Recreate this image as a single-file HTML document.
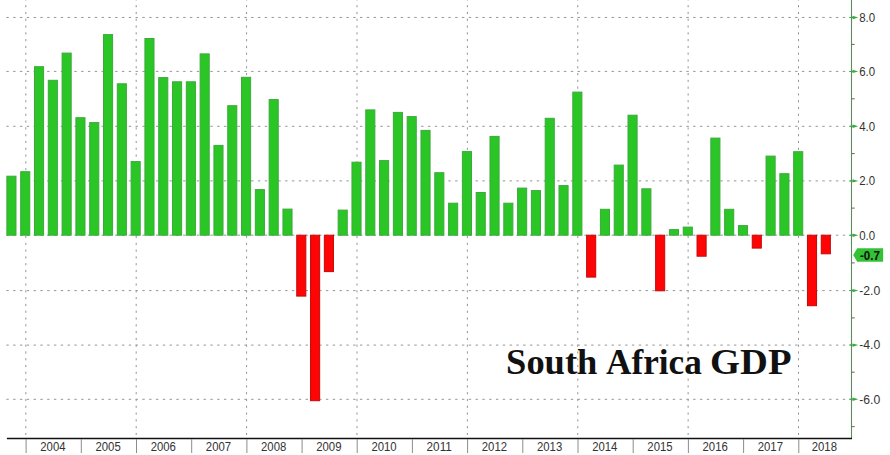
<!DOCTYPE html>
<html><head><meta charset="utf-8"><style>
html,body{margin:0;padding:0;background:#fff;}
svg{display:block;}
.g{stroke:#959595;stroke-width:1;stroke-dasharray:2.4 4.4;stroke-dashoffset:-0.35;fill:none;}
.gv{stroke:#959595;stroke-width:1;stroke-dasharray:2.2 4.59;stroke-dashoffset:1.7;fill:none;}
.yl{font-family:"Liberation Sans",sans-serif;font-size:12px;fill:#333;}
.xl{font-family:"Liberation Sans",sans-serif;font-size:12.5px;fill:#333;}
.tg{font-family:"Liberation Sans",sans-serif;font-size:12.2px;font-weight:bold;fill:#111;}
.tt{font-family:"Liberation Serif",serif;font-size:36px;font-weight:bold;fill:#111;}
</style></head><body>
<svg width="890" height="455" viewBox="0 0 890 455">
<line x1="6" y1="17.45" x2="851" y2="17.45" class="g"/>
<line x1="6" y1="71.40" x2="851" y2="71.40" class="g"/>
<line x1="6" y1="126.30" x2="851" y2="126.30" class="g"/>
<line x1="6" y1="180.90" x2="851" y2="180.90" class="g"/>
<line x1="6" y1="235.20" x2="851" y2="235.20" class="g"/>
<line x1="6" y1="290.60" x2="851" y2="290.60" class="g"/>
<line x1="6" y1="345.10" x2="851" y2="345.10" class="g"/>
<line x1="6" y1="399.30" x2="851" y2="399.30" class="g"/>
<line x1="25.80" y1="0" x2="25.80" y2="438" class="gv"/>
<line x1="136.19" y1="0" x2="136.19" y2="438" class="gv"/>
<line x1="246.58" y1="0" x2="246.58" y2="438" class="gv"/>
<line x1="356.97" y1="0" x2="356.97" y2="438" class="gv"/>
<line x1="467.36" y1="0" x2="467.36" y2="438" class="gv"/>
<line x1="577.75" y1="0" x2="577.75" y2="438" class="gv"/>
<line x1="688.14" y1="0" x2="688.14" y2="438" class="gv"/>
<line x1="798.53" y1="0" x2="798.53" y2="438" class="gv"/>
<rect x="6.88" y="176.2" width="9.1" height="59.0" fill="#2ac626" stroke="#3ea83e" stroke-width="1"/>
<rect x="20.68" y="171.7" width="9.1" height="63.5" fill="#2ac626" stroke="#3ea83e" stroke-width="1"/>
<rect x="34.49" y="66.7" width="9.1" height="168.5" fill="#2ac626" stroke="#3ea83e" stroke-width="1"/>
<rect x="48.29" y="80.3" width="9.1" height="154.9" fill="#2ac626" stroke="#3ea83e" stroke-width="1"/>
<rect x="62.09" y="53.1" width="9.1" height="182.1" fill="#2ac626" stroke="#3ea83e" stroke-width="1"/>
<rect x="75.89" y="117.7" width="9.1" height="117.5" fill="#2ac626" stroke="#3ea83e" stroke-width="1"/>
<rect x="89.70" y="122.6" width="9.1" height="112.6" fill="#2ac626" stroke="#3ea83e" stroke-width="1"/>
<rect x="103.50" y="34.6" width="9.1" height="200.6" fill="#2ac626" stroke="#3ea83e" stroke-width="1"/>
<rect x="117.30" y="83.8" width="9.1" height="151.4" fill="#2ac626" stroke="#3ea83e" stroke-width="1"/>
<rect x="131.11" y="161.6" width="9.1" height="73.6" fill="#2ac626" stroke="#3ea83e" stroke-width="1"/>
<rect x="144.91" y="38.5" width="9.1" height="196.7" fill="#2ac626" stroke="#3ea83e" stroke-width="1"/>
<rect x="158.71" y="77.6" width="9.1" height="157.6" fill="#2ac626" stroke="#3ea83e" stroke-width="1"/>
<rect x="172.52" y="81.8" width="9.1" height="153.4" fill="#2ac626" stroke="#3ea83e" stroke-width="1"/>
<rect x="186.32" y="81.8" width="9.1" height="153.4" fill="#2ac626" stroke="#3ea83e" stroke-width="1"/>
<rect x="200.12" y="53.9" width="9.1" height="181.3" fill="#2ac626" stroke="#3ea83e" stroke-width="1"/>
<rect x="213.93" y="145.4" width="9.1" height="89.8" fill="#2ac626" stroke="#3ea83e" stroke-width="1"/>
<rect x="227.73" y="105.7" width="9.1" height="129.5" fill="#2ac626" stroke="#3ea83e" stroke-width="1"/>
<rect x="241.53" y="77.3" width="9.1" height="157.9" fill="#2ac626" stroke="#3ea83e" stroke-width="1"/>
<rect x="255.33" y="189.6" width="9.1" height="45.6" fill="#2ac626" stroke="#3ea83e" stroke-width="1"/>
<rect x="269.14" y="99.6" width="9.1" height="135.6" fill="#2ac626" stroke="#3ea83e" stroke-width="1"/>
<rect x="282.94" y="209.1" width="9.1" height="26.1" fill="#2ac626" stroke="#3ea83e" stroke-width="1"/>
<rect x="296.74" y="235.2" width="9.1" height="60.9" fill="#ff0404" stroke="#c40a0a" stroke-width="1"/>
<rect x="310.55" y="235.2" width="9.1" height="165.5" fill="#ff0404" stroke="#c40a0a" stroke-width="1"/>
<rect x="324.35" y="235.2" width="9.1" height="36.4" fill="#ff0404" stroke="#c40a0a" stroke-width="1"/>
<rect x="338.15" y="210.1" width="9.1" height="25.1" fill="#2ac626" stroke="#3ea83e" stroke-width="1"/>
<rect x="351.96" y="162.2" width="9.1" height="73.0" fill="#2ac626" stroke="#3ea83e" stroke-width="1"/>
<rect x="365.76" y="109.9" width="9.1" height="125.3" fill="#2ac626" stroke="#3ea83e" stroke-width="1"/>
<rect x="379.56" y="160.6" width="9.1" height="74.6" fill="#2ac626" stroke="#3ea83e" stroke-width="1"/>
<rect x="393.36" y="112.4" width="9.1" height="122.8" fill="#2ac626" stroke="#3ea83e" stroke-width="1"/>
<rect x="407.17" y="116.6" width="9.1" height="118.6" fill="#2ac626" stroke="#3ea83e" stroke-width="1"/>
<rect x="420.97" y="130.4" width="9.1" height="104.8" fill="#2ac626" stroke="#3ea83e" stroke-width="1"/>
<rect x="434.77" y="172.7" width="9.1" height="62.5" fill="#2ac626" stroke="#3ea83e" stroke-width="1"/>
<rect x="448.58" y="203.2" width="9.1" height="32.0" fill="#2ac626" stroke="#3ea83e" stroke-width="1"/>
<rect x="462.38" y="151.6" width="9.1" height="83.6" fill="#2ac626" stroke="#3ea83e" stroke-width="1"/>
<rect x="476.18" y="192.5" width="9.1" height="42.7" fill="#2ac626" stroke="#3ea83e" stroke-width="1"/>
<rect x="489.99" y="136.4" width="9.1" height="98.8" fill="#2ac626" stroke="#3ea83e" stroke-width="1"/>
<rect x="503.79" y="203.2" width="9.1" height="32.0" fill="#2ac626" stroke="#3ea83e" stroke-width="1"/>
<rect x="517.59" y="188.1" width="9.1" height="47.1" fill="#2ac626" stroke="#3ea83e" stroke-width="1"/>
<rect x="531.39" y="190.6" width="9.1" height="44.6" fill="#2ac626" stroke="#3ea83e" stroke-width="1"/>
<rect x="545.20" y="118.3" width="9.1" height="116.9" fill="#2ac626" stroke="#3ea83e" stroke-width="1"/>
<rect x="559.00" y="185.6" width="9.1" height="49.6" fill="#2ac626" stroke="#3ea83e" stroke-width="1"/>
<rect x="572.80" y="92.1" width="9.1" height="143.1" fill="#2ac626" stroke="#3ea83e" stroke-width="1"/>
<rect x="586.61" y="235.2" width="9.1" height="41.9" fill="#ff0404" stroke="#c40a0a" stroke-width="1"/>
<rect x="600.41" y="209.3" width="9.1" height="25.9" fill="#2ac626" stroke="#3ea83e" stroke-width="1"/>
<rect x="614.21" y="165.1" width="9.1" height="70.1" fill="#2ac626" stroke="#3ea83e" stroke-width="1"/>
<rect x="628.01" y="115.2" width="9.1" height="120.0" fill="#2ac626" stroke="#3ea83e" stroke-width="1"/>
<rect x="641.82" y="188.8" width="9.1" height="46.4" fill="#2ac626" stroke="#3ea83e" stroke-width="1"/>
<rect x="655.62" y="235.2" width="9.1" height="55.6" fill="#ff0404" stroke="#c40a0a" stroke-width="1"/>
<rect x="669.42" y="229.6" width="9.1" height="5.6" fill="#2ac626" stroke="#3ea83e" stroke-width="1"/>
<rect x="683.23" y="227.1" width="9.1" height="8.1" fill="#2ac626" stroke="#3ea83e" stroke-width="1"/>
<rect x="697.03" y="235.2" width="9.1" height="21.0" fill="#ff0404" stroke="#c40a0a" stroke-width="1"/>
<rect x="710.83" y="138.1" width="9.1" height="97.1" fill="#2ac626" stroke="#3ea83e" stroke-width="1"/>
<rect x="724.64" y="209.3" width="9.1" height="25.9" fill="#2ac626" stroke="#3ea83e" stroke-width="1"/>
<rect x="738.44" y="225.6" width="9.1" height="9.6" fill="#2ac626" stroke="#3ea83e" stroke-width="1"/>
<rect x="752.24" y="235.2" width="9.1" height="12.9" fill="#ff0404" stroke="#c40a0a" stroke-width="1"/>
<rect x="766.05" y="156.1" width="9.1" height="79.1" fill="#2ac626" stroke="#3ea83e" stroke-width="1"/>
<rect x="779.85" y="173.7" width="9.1" height="61.5" fill="#2ac626" stroke="#3ea83e" stroke-width="1"/>
<rect x="793.65" y="151.7" width="9.1" height="83.5" fill="#2ac626" stroke="#3ea83e" stroke-width="1"/>
<rect x="807.45" y="235.2" width="9.1" height="70.5" fill="#ff0404" stroke="#c40a0a" stroke-width="1"/>
<rect x="821.26" y="235.2" width="9.1" height="18.6" fill="#ff0404" stroke="#c40a0a" stroke-width="1"/>
<line x1="851.5" y1="0" x2="851.5" y2="438.5" stroke="#5e8a60" stroke-width="1.1"/>
<line x1="851.5" y1="426.6" x2="854.7" y2="426.6" stroke="#666" stroke-width="1"/>
<path d="M849.3 398.80 H852.5 L852.5 397.60 L858.3 399.30 L852.5 401.00 L852.5 399.80 H849.3 Z" fill="#36aa42"/>
<text x="859.2" y="403.65" class="yl" textLength="21.0" lengthAdjust="spacingAndGlyphs">-6.0</text>
<line x1="851.5" y1="372.2" x2="854.7" y2="372.2" stroke="#666" stroke-width="1"/>
<path d="M849.3 344.60 H852.5 L852.5 343.40 L858.3 345.10 L852.5 346.80 L852.5 345.60 H849.3 Z" fill="#36aa42"/>
<text x="859.2" y="349.45" class="yl" textLength="21.0" lengthAdjust="spacingAndGlyphs">-4.0</text>
<line x1="851.5" y1="317.9" x2="854.7" y2="317.9" stroke="#666" stroke-width="1"/>
<path d="M849.3 290.10 H852.5 L852.5 288.90 L858.3 290.60 L852.5 292.30 L852.5 291.10 H849.3 Z" fill="#36aa42"/>
<text x="859.2" y="294.95" class="yl" textLength="21.0" lengthAdjust="spacingAndGlyphs">-2.0</text>
<line x1="851.5" y1="262.9" x2="854.7" y2="262.9" stroke="#666" stroke-width="1"/>
<path d="M849.3 234.70 H852.5 L852.5 233.50 L858.3 235.20 L852.5 236.90 L852.5 235.70 H849.3 Z" fill="#36aa42"/>
<text x="859.2" y="239.55" class="yl" textLength="15.9" lengthAdjust="spacingAndGlyphs">0.0</text>
<line x1="851.5" y1="208.1" x2="854.7" y2="208.1" stroke="#666" stroke-width="1"/>
<path d="M849.3 180.40 H852.5 L852.5 179.20 L858.3 180.90 L852.5 182.60 L852.5 181.40 H849.3 Z" fill="#36aa42"/>
<text x="859.2" y="185.25" class="yl" textLength="15.9" lengthAdjust="spacingAndGlyphs">2.0</text>
<line x1="851.5" y1="153.6" x2="854.7" y2="153.6" stroke="#666" stroke-width="1"/>
<path d="M849.3 125.80 H852.5 L852.5 124.60 L858.3 126.30 L852.5 128.00 L852.5 126.80 H849.3 Z" fill="#36aa42"/>
<text x="859.2" y="130.65" class="yl" textLength="15.9" lengthAdjust="spacingAndGlyphs">4.0</text>
<line x1="851.5" y1="98.8" x2="854.7" y2="98.8" stroke="#666" stroke-width="1"/>
<path d="M849.3 70.90 H852.5 L852.5 69.70 L858.3 71.40 L852.5 73.10 L852.5 71.90 H849.3 Z" fill="#36aa42"/>
<text x="859.2" y="75.75" class="yl" textLength="15.9" lengthAdjust="spacingAndGlyphs">6.0</text>
<line x1="851.5" y1="44.4" x2="854.7" y2="44.4" stroke="#666" stroke-width="1"/>
<path d="M849.3 16.95 H852.5 L852.5 15.75 L858.3 17.45 L852.5 19.15 L852.5 17.95 H849.3 Z" fill="#36aa42"/>
<text x="859.2" y="21.80" class="yl" textLength="15.9" lengthAdjust="spacingAndGlyphs">8.0</text>
<line x1="6.9" y1="438.5" x2="852" y2="438.5" stroke="#111" stroke-width="1.3"/>
<line x1="26.1" y1="439" x2="26.1" y2="453" stroke="#8c8c8c" stroke-width="1"/>
<text x="40.27" y="450.8" class="xl" textLength="25.25" lengthAdjust="spacingAndGlyphs">2004</text>
<line x1="81.3" y1="439" x2="81.3" y2="453" stroke="#8c8c8c" stroke-width="1"/>
<text x="95.46" y="450.8" class="xl" textLength="25.25" lengthAdjust="spacingAndGlyphs">2005</text>
<line x1="136.5" y1="439" x2="136.5" y2="453" stroke="#8c8c8c" stroke-width="1"/>
<text x="150.65" y="450.8" class="xl" textLength="25.25" lengthAdjust="spacingAndGlyphs">2006</text>
<line x1="191.7" y1="439" x2="191.7" y2="453" stroke="#8c8c8c" stroke-width="1"/>
<text x="205.84" y="450.8" class="xl" textLength="25.25" lengthAdjust="spacingAndGlyphs">2007</text>
<line x1="246.9" y1="439" x2="246.9" y2="453" stroke="#8c8c8c" stroke-width="1"/>
<text x="261.03" y="450.8" class="xl" textLength="25.25" lengthAdjust="spacingAndGlyphs">2008</text>
<line x1="302.1" y1="439" x2="302.1" y2="453" stroke="#8c8c8c" stroke-width="1"/>
<text x="316.22" y="450.8" class="xl" textLength="25.25" lengthAdjust="spacingAndGlyphs">2009</text>
<line x1="357.2" y1="439" x2="357.2" y2="453" stroke="#8c8c8c" stroke-width="1"/>
<text x="371.41" y="450.8" class="xl" textLength="25.25" lengthAdjust="spacingAndGlyphs">2010</text>
<line x1="412.4" y1="439" x2="412.4" y2="453" stroke="#8c8c8c" stroke-width="1"/>
<text x="426.60" y="450.8" class="xl" textLength="25.25" lengthAdjust="spacingAndGlyphs">2011</text>
<line x1="467.6" y1="439" x2="467.6" y2="453" stroke="#8c8c8c" stroke-width="1"/>
<text x="481.79" y="450.8" class="xl" textLength="25.25" lengthAdjust="spacingAndGlyphs">2012</text>
<line x1="522.8" y1="439" x2="522.8" y2="453" stroke="#8c8c8c" stroke-width="1"/>
<text x="536.98" y="450.8" class="xl" textLength="25.25" lengthAdjust="spacingAndGlyphs">2013</text>
<line x1="578.0" y1="439" x2="578.0" y2="453" stroke="#8c8c8c" stroke-width="1"/>
<text x="592.17" y="450.8" class="xl" textLength="25.25" lengthAdjust="spacingAndGlyphs">2014</text>
<line x1="633.2" y1="439" x2="633.2" y2="453" stroke="#8c8c8c" stroke-width="1"/>
<text x="647.36" y="450.8" class="xl" textLength="25.25" lengthAdjust="spacingAndGlyphs">2015</text>
<line x1="688.4" y1="439" x2="688.4" y2="453" stroke="#8c8c8c" stroke-width="1"/>
<text x="702.55" y="450.8" class="xl" textLength="25.25" lengthAdjust="spacingAndGlyphs">2016</text>
<line x1="743.6" y1="439" x2="743.6" y2="453" stroke="#8c8c8c" stroke-width="1"/>
<text x="757.74" y="450.8" class="xl" textLength="25.25" lengthAdjust="spacingAndGlyphs">2017</text>
<line x1="798.8" y1="439" x2="798.8" y2="453" stroke="#8c8c8c" stroke-width="1"/>
<text x="811.71" y="450.8" class="xl" textLength="25.25" lengthAdjust="spacingAndGlyphs">2018</text>
<path d="M853.2 254.9 L857.2 248.2 H883.1 V261.7 H857.2 Z" fill="#33c233"/>
<text x="860.0" y="259.8" class="tg" textLength="20.0" lengthAdjust="spacingAndGlyphs">-0.7</text>
<text x="506.1" y="373.7" class="tt" textLength="91.25" lengthAdjust="spacingAndGlyphs">South</text>
<text x="606.0" y="373.7" class="tt" textLength="95.8" lengthAdjust="spacingAndGlyphs">Africa</text>
<text x="710.1" y="373.7" class="tt" textLength="81.4" lengthAdjust="spacingAndGlyphs">GDP</text>
</svg>
</body></html>
